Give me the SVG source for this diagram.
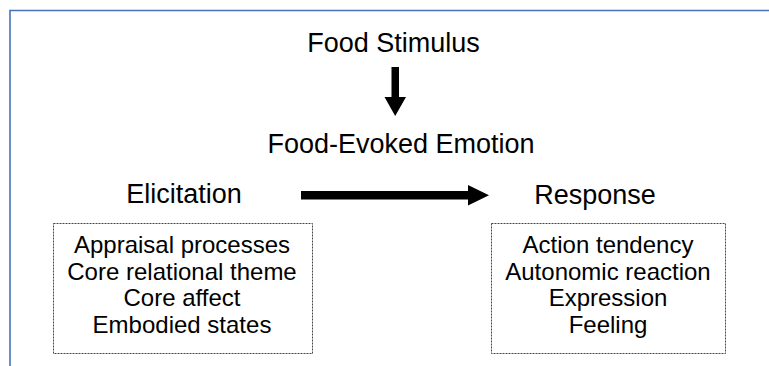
<svg xmlns="http://www.w3.org/2000/svg" width="769" height="366" viewBox="0 0 769 366">
<style>
.t{font-family:"Liberation Sans",Arial,sans-serif;fill:#000;text-anchor:middle}
.h{font-size:27px}
.b{font-size:24px}
.box{fill:none;stroke:#444;stroke-width:1;stroke-dasharray:2,1}
</style>
<rect width="769" height="366" fill="#fff"/>
<path d="M10,366 V10.5 H769" fill="none" stroke="#4a72b8" stroke-width="1.6"/>
<g id="food-stimulus"><text class="t h" x="393.5" y="52">Food Stimulus</text></g>
<g id="food-evoked-emotion"><text class="t h" x="401" y="153">Food-Evoked Emotion</text></g>
<g id="elicitation">
<text class="t h" x="184" y="203">Elicitation</text>
<rect class="box" x="53.5" y="223.5" width="259" height="130"/>
<text class="t b" x="182" y="253">Appraisal processes</text>
<text class="t b" x="182" y="279.5">Core relational theme</text>
<text class="t b" x="182" y="306">Core affect</text>
<text class="t b" x="182" y="332.5">Embodied states</text>
</g>
<g id="response">
<text class="t h" x="595" y="204">Response</text>
<rect class="box" x="491.5" y="223.5" width="234" height="130"/>
<text class="t b" x="608" y="253">Action tendency</text>
<text class="t b" x="608" y="279.5">Autonomic reaction</text>
<text class="t b" x="608" y="306">Expression</text>
<text class="t b" x="608" y="332.5">Feeling</text>
</g>
<g id="connectors" fill="#000">
<polygon points="391.5,67 399,67 399,97 406,97 395.2,116 384.5,97 391.5,97"/>
<polygon points="301,191 468,191 468,185 489,195.2 468,205.5 468,199.5 301,199.5"/>
</g>
</svg>
